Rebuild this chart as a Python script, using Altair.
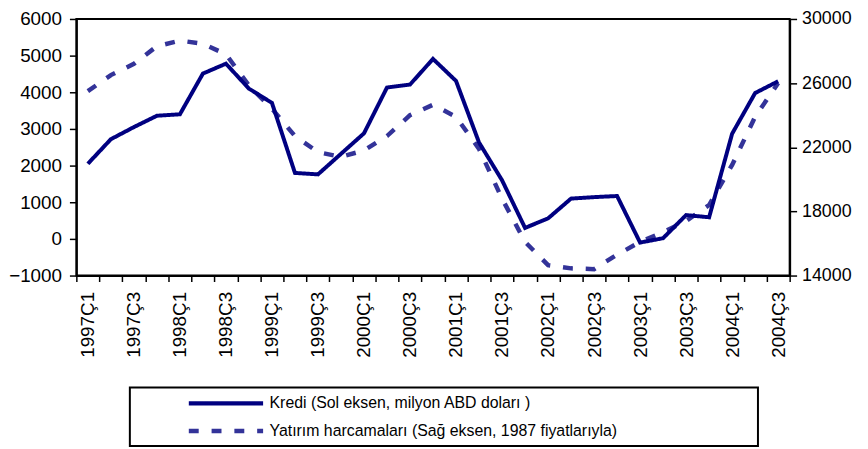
import altair as alt
import pandas as pd

quarters = [f"{y}Ç{q}" for y in range(1997, 2005) for q in range(1, 5)][:31]

kredi = [2050, 2720, 3050, 3360, 3400, 4510, 4780, 4100, 3710, 1800, 1760,
         2320, 2880, 4130, 4210, 4910, 4310, 2630, 1600, 300, 560, 1100,
         1140, 1170, -100, 20, 650, 590, 2870, 3980, 4300]

yatirim = [25500, 26500, 27200, 28300, 28650, 28450, 27800, 25850, 24400,
           22700, 21700, 21400, 21800, 22700, 24000, 24650, 23900, 21900,
           18800, 16100, 14650, 14450, 14400, 15300, 16100, 16700, 17400,
           18400, 20900, 23900, 26000]

s_kredi = "Kredi (Sol eksen, milyon ABD doları )"
s_yat = "Yatırım harcamaları (Sağ eksen, 1987 fiyatlarıyla)"

df = pd.DataFrame({
    "donem": quarters * 2,
    "seri": [s_kredi] * len(quarters) + [s_yat] * len(quarters),
    "deger": kredi + yatirim,
})

FONT = "Liberation Sans"

x_enc = alt.X(
    "donem:N",
    sort=quarters,
    title=None,
    scale=alt.Scale(type="band", paddingInner=0, paddingOuter=0),
    axis=alt.Axis(
        tickBand="extent",
        labelAngle=270,
        labelAlign="right",
        labelBaseline="middle",
        labelPadding=10,
        tickSize=6,
        labelOverlap=False,
        labelExpr="test(/Ç[13]$/, datum.value) ? datum.value : ''",
    ),
)

color_enc = alt.Color(
    "seri:N",
    title=None,
    scale=alt.Scale(domain=[s_kredi, s_yat], range=["#000080", "#333399"]),
    legend=alt.Legend(
        orient="none",
        legendX=111,
        legendY=378,
        symbolType="M-1,0L9,0",
        symbolSize=225,
        symbolStrokeWidth=4.5,
        labelFont=FONT,
        labelFontSize=16,
        labelColor="black",
        labelOffset=64,
        rowPadding=9,
        labelLimit=600,
    ),
)
dash_enc = alt.StrokeDash(
    "seri:N",
    title=None,
    scale=alt.Scale(domain=[s_kredi, s_yat], range=[[1, 0], [10, 13]]),
)

left = alt.Chart(df).transform_filter(
    alt.datum.seri == s_kredi
).mark_line(strokeWidth=4).encode(
    x=x_enc,
    y=alt.Y(
        "deger:Q",
        title=None,
        scale=alt.Scale(domain=[-1000, 6000], nice=False, zero=False),
        axis=alt.Axis(values=list(range(-1000, 6001, 1000)), orient="left",
                      format="d", tickSize=7, labelPadding=8, grid=False),
    ),
    color=color_enc,
    strokeDash=dash_enc,
)

right = alt.Chart(df).transform_filter(
    alt.datum.seri == s_yat
).mark_line(strokeWidth=4.5).encode(
    x=x_enc,
    y=alt.Y(
        "deger:Q",
        title=None,
        scale=alt.Scale(domain=[14000, 30000], nice=False, zero=False),
        axis=alt.Axis(values=list(range(14000, 30001, 4000)), orient="right",
                      format="d", tickSize=7, labelPadding=5,
                      labelFontSize=18, grid=False),
    ),
    color=color_enc,
    strokeDash=dash_enc,
)

frame = alt.Chart(pd.DataFrame({"k": [0]})).mark_rect(
    fill="white", fillOpacity=0, stroke="black", strokeWidth=2
).encode(
    x=alt.value(54), x2=alt.value(688), y=alt.value(372), y2=alt.value(431)
)

chart = alt.layer(right, left, frame).resolve_scale(
    y="independent"
).properties(
    width=720,
    height=259,
    autosize=alt.AutoSizeParams(type="none"),
    padding={"left": 69, "right": 71, "top": 9, "bottom": 173},
).configure_view(
    stroke="black", strokeWidth=2
).configure_axis(
    domainColor="black",
    domainWidth=2,
    tickColor="black",
    tickWidth=1.5,
    labelFont=FONT,
    labelFontSize=19,
    labelColor="black",
    grid=False,
)

chart.save("out.html", embed_options={"renderer": "svg", "actions": False})
